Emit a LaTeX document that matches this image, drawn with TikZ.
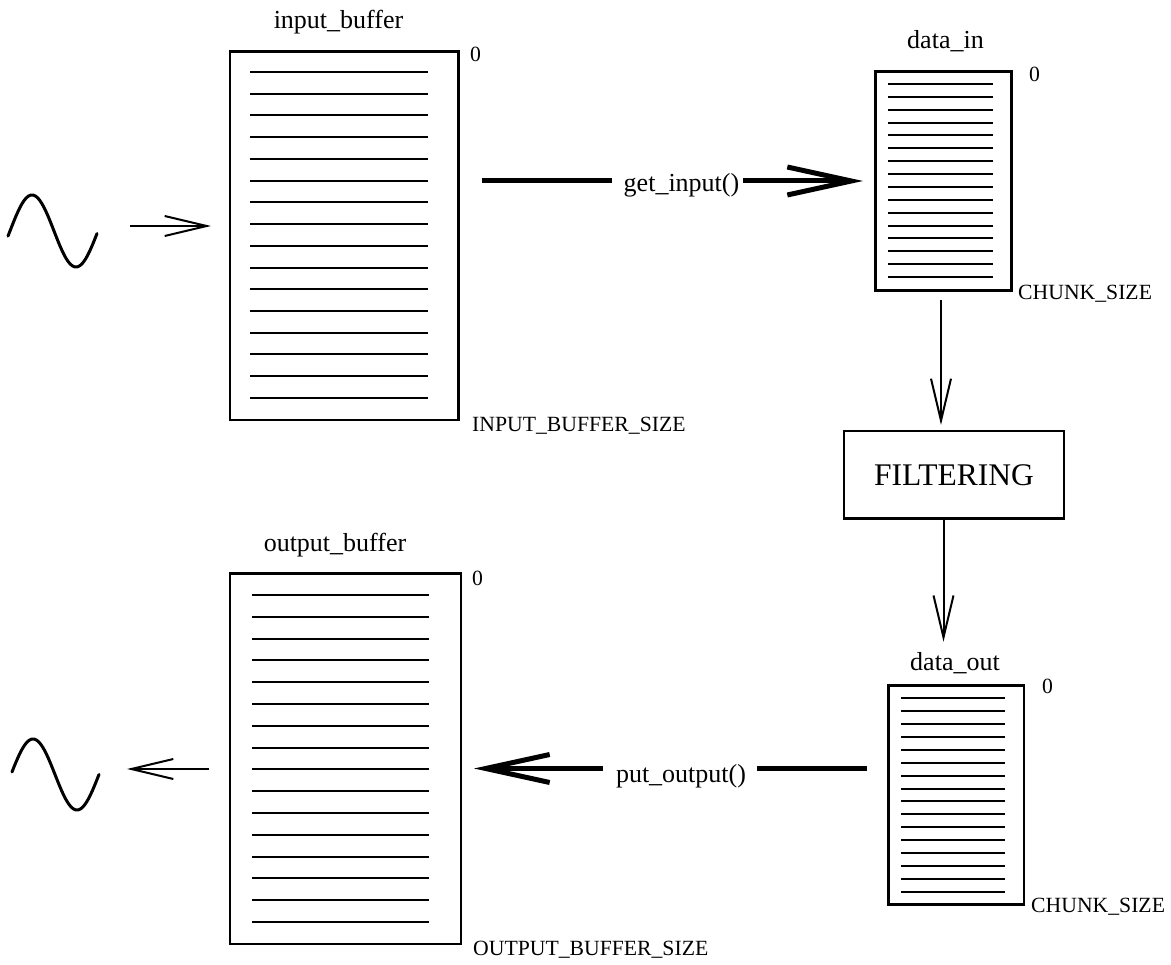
\documentclass[tikz,border=0pt]{standalone}
\usepackage{fontspec}
\setmainfont{Liberation Serif}
\usetikzlibrary{arrows.meta,calc}
\begin{document}
\begin{tikzpicture}[x=1pt,y=-1pt,
  buf/.style={draw, line width=2.8pt, inner sep=0pt, outer sep=0pt},
  procbox/.style={draw, line width=2.2pt, inner sep=0pt, outer sep=0pt,
    font=\fontsize{31.5}{36}\selectfont},
  row/.style={line width=2pt},
  lbl/.style={inner sep=0pt, font=\fontsize{26}{30}\selectfont},
  small/.style={inner sep=0pt, font=\fontsize{21.7}{26}\selectfont},
  wave/.style={line width=3pt, line cap=round, line join=round},
  thinarrow/.style={line width=2pt, -{Straight Barb[length=42pt,width=20pt]}},
  heavy/.style={line width=5pt},
  heavyarrow/.style={heavy, -{Straight Barb[length=64pt,width=28pt]}},
]
\useasboundingbox (0,0) rectangle (1171,965);

% ---- buffers ----
\node[buf, minimum width=228.5pt, minimum height=368.5pt] (inbuf)   at (344.25,235.75) {};
\node[buf, minimum width=136pt,   minimum height=219.4pt] (datain)  at (943.5,181) {};
\node[buf, minimum width=231pt,   minimum height=370.3pt] (outbuf)  at (345.5,758.85) {};
\node[buf, minimum width=135.7pt, minimum height=219pt]   (dataout) at (956.15,795.2) {};
\node[procbox, minimum width=220pt, minimum height=87.5pt] (filter) at (954,474.75) {FILTERING};

% ---- buffer slots ----
\foreach \i in {0,...,15} {
  \draw[row] ($(inbuf.north west)+(20,20.5+\i*21.73)$) -- ($(inbuf.north east)+(-31,20.5+\i*21.73)$);
  \draw[row] ($(datain.north west)+(12.5,12.7+\i*12.87)$) -- ($(datain.north east)+(-18.5,12.7+\i*12.87)$);
  \draw[row] ($(outbuf.north west)+(22,21.3+\i*21.8)$) -- ($(outbuf.north east)+(-32,21.3+\i*21.8)$);
  \draw[row] ($(dataout.north west)+(12.7,12.3+\i*12.93)$) -- ($(dataout.north east)+(-19,12.3+\i*12.93)$);
}

% ---- labels ----
\node[lbl, anchor=base] (lblin)     at (338.5,29)  {input\_buffer};
\node[lbl, anchor=base] (lbldatain) at (945.5,49)  {data\_in};
\node[lbl, anchor=base] (lblobuf)   at (335,552)   {output\_buffer};
\node[lbl, anchor=base] (lblout)    at (955,670)   {data\_out};

\node[small, anchor=base west] (zin)   at (470,62)   {0};
\node[small, anchor=base west] (zdin)  at (1029,82)  {0};
\node[small, anchor=base west] (zob)   at (472,585)  {0};
\node[small, anchor=base west] (zdout) at (1042,693) {0};

\node[small, anchor=base west] (szin)   at (472,432)  {INPUT\_BUFFER\_SIZE};
\node[small, anchor=base west] (szdin)  at (1018,300) {CHUNK\_SIZE};
\node[small, anchor=base west] (szdout) at (1031,912) {CHUNK\_SIZE};
\node[small, anchor=base west] (szob)   at (473,955)  {OUTPUT\_BUFFER\_SIZE};

\node[lbl, anchor=base] (getin)  at (681.5,192) {get\_input()};
\node[lbl, anchor=base] (putout) at (681,782)   {put\_output()};

% ---- signals ----
\draw[wave] plot[domain=8:97, samples=80, smooth] (\x,{231-36*sin((\x-10)*180/44)});
\coordinate (wavein) at (97,226);
\draw[wave] plot[domain=12:99, samples=80, smooth] (\x,{774.5-35.5*sin((\x-11)*180/44)});
\coordinate (waveout) at (99,769);

% ---- data flow ----
\draw[thinarrow] ($(wavein)+(33,0)$) -- ($(inbuf.west |- wavein)+(-19,0)$);
\draw[thinarrow] ($(outbuf.west |- waveout)+(-21,0)$) -- ($(waveout)+(28,0)$);

\draw[heavy] ($(inbuf.east |- getin.base)+(23,-11)$) -- ($(getin.base -| getin.west)+(-11.5,-11)$);
\draw[heavyarrow] ($(getin.base -| getin.east)+(3.5,-11)$) -- ($(datain.west |- getin.base)+(-12.5,-11)$);

\draw[thinarrow] ($(datain.south)+(-2.5,9.3)$) -- ($(datain.south |- filter.north)+(-2.5,-6)$);
\draw[thinarrow] (filter.south -| datain.south) -- ($(datain.south |- lblout.north)+(0,-10)$);

\draw[heavy] ($(dataout.west |- putout.base)+(-21.3,-13.5)$) -- ($(putout.base -| putout.east)+(11,-13.5)$);
\draw[heavyarrow] ($(putout.base -| putout.west)+(-13,-13.5)$) -- ($(outbuf.east |- putout.base)+(13,-13.5)$);
\end{tikzpicture}
\end{document}
